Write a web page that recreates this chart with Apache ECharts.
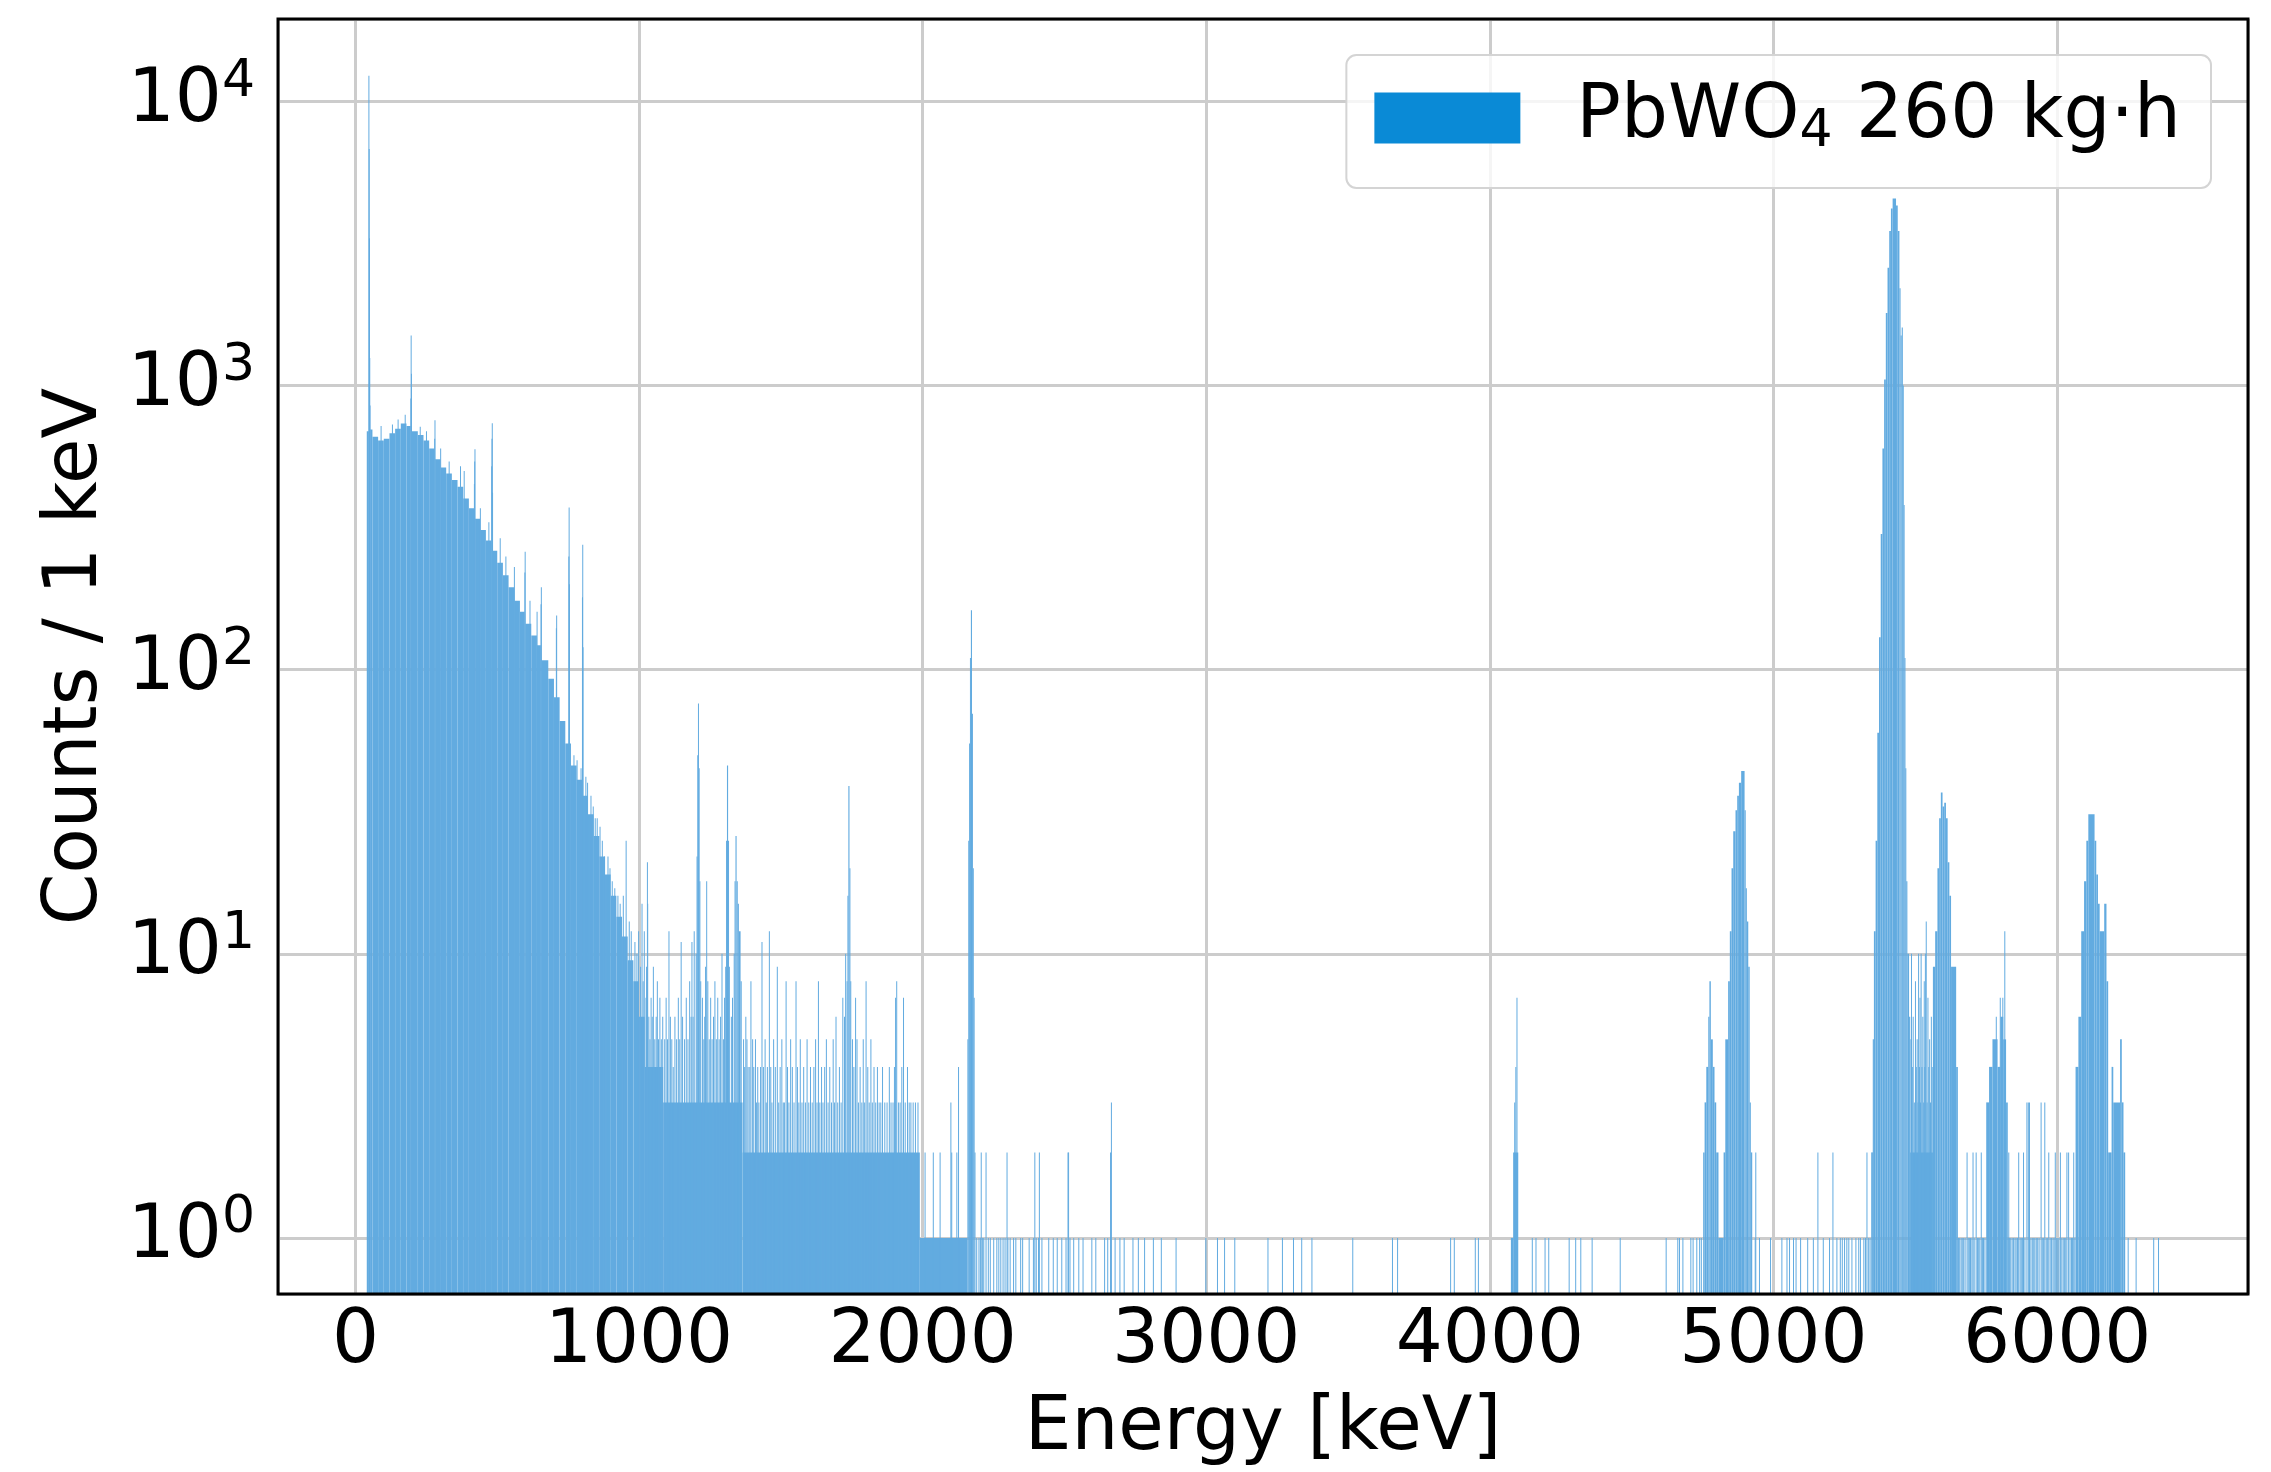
<!DOCTYPE html>
<html>
<head>
<meta charset="utf-8">
<title>PbWO4 spectrum</title>
<script src="https://cdn.jsdelivr.net/npm/echarts/dist/echarts.min.js"></script>
<style>
  html, body { margin: 0; padding: 0; background: #fff; }
  #chart { width: 2271px; height: 1472px; }
</style>
</head>
<body>
<div id="chart"></div>
<script>
// histogram with 1 keV bins; runs of bins are given as [lo keV, hi keV, counts]
const contBlocks = [
  [40, 47, 690], [52, 60, 700], [60, 80, 660], [80, 100, 640], [100, 120, 650],
  [120, 140, 680], [140, 160, 705], [160, 180, 735], [180, 195, 720], [198, 220, 690],
  [220, 240, 670], [240, 260, 640], [260, 279, 600], [281, 300, 550], [300, 320, 515],
  [320, 340, 490], [340, 360, 465], [360, 380, 440], [380, 400, 400], [400, 419, 370],
  [422, 440, 340], [440, 460, 310], [460, 480, 285], [484, 500, 262], [500, 520, 238],
  [520, 540, 215], [540, 560, 195], [560, 580, 175], [580, 597, 160], [599, 620, 145],
  [620, 640, 132], [640, 654, 122], [656, 680, 108], [680, 700, 93], [700, 720, 80],
  [720, 740, 66], [740, 760, 55], [760, 780, 46], [780, 800, 41], [800, 820, 36],
  [820, 840, 31], [840, 860, 26], [860, 880, 22], [880, 900, 19], [900, 920, 16],
  [920, 940, 13.5], [940, 960, 11.5], [960, 980, 9.5], [980, 1000, 8]
];

const tailBlocks = [
  [1000, 1020, 6], [1020, 1085, 4], [1085, 1365, 3], [1365, 1990, 2], [1990, 2158, 1],
  [4074, 4082, 1], [4082, 4100, 2]
];

// gamma lines
const lineBlocks = [
  [1200, 1203, 10], [1203, 1206, 22], [1206, 1208, 50], [1208, 1211, 76], [1211, 1213, 45],
  [1213, 1216, 18], [1216, 1219, 8],
  [1304, 1307, 9], [1307, 1310, 25], [1310, 1314, 46], [1314, 1317, 25], [1317, 1320, 9],
  [1334, 1337, 10], [1337, 1340, 18], [1340, 1344, 26], [1344, 1348, 18], [1348, 1352, 15],
  [1352, 1358, 12], [1358, 1362, 8],
  [1732, 1735, 8], [1735, 1738, 16], [1738, 1742, 39], [1742, 1745, 20], [1745, 1748, 8],
  [2158, 2161, 5], [2161, 2164, 25], [2164, 2167, 55], [2167, 2170, 110], [2170, 2174, 162],
  [2174, 2177, 70], [2177, 2180, 20], [2180, 2183, 7], [2183, 2186, 2]
];

// alpha region
const alphaBlocks = [
  [4752, 4757, 2], [4757, 4763, 3], [4763, 4770, 4], [4770, 4774, 6], [4774, 4779, 8],
  [4779, 4786, 5], [4786, 4792, 4], [4792, 4798, 3], [4798, 4806, 2], [4806, 4824, 1],
  [4824, 4830, 2], [4830, 4840, 5], [4840, 4846, 8], [4846, 4852, 12], [4852, 4858, 20],
  [4858, 4866, 27], [4866, 4872, 32], [4872, 4878, 36], [4878, 4886, 40], [4886, 4898, 44],
  [4898, 4902, 32], [4902, 4906, 17], [4906, 4911, 13], [4911, 4916, 9], [4916, 4920, 3],
  [4920, 4925, 2],
  [5345, 5350, 2], [5350, 5354, 5], [5354, 5360, 12], [5360, 5366, 25], [5366, 5372, 60],
  [5372, 5378, 130], [5378, 5384, 300], [5384, 5390, 600], [5390, 5396, 1050], [5396, 5402, 1800],
  [5402, 5408, 2600], [5408, 5414, 3500], [5414, 5420, 4200], [5420, 5432, 4550], [5432, 5438, 4300],
  [5438, 5444, 3500], [5444, 5448, 2200], [5448, 5452, 1500], [5452, 5456, 1600], [5456, 5459, 1000],
  [5459, 5462, 380], [5462, 5465, 110], [5465, 5468, 45], [5468, 5472, 18], [5472, 5478, 10],
  [5478, 5482, 6], [5482, 5562, 2],
  [5562, 5570, 9], [5570, 5578, 12], [5578, 5584, 20], [5584, 5590, 30], [5590, 5596, 37],
  [5596, 5602, 33], [5602, 5608, 34], [5608, 5614, 30], [5614, 5620, 21], [5620, 5626, 16],
  [5626, 5644, 9], [5644, 5650, 4],
  [5750, 5760, 3], [5760, 5772, 4], [5772, 5790, 5], [5790, 5800, 4], [5800, 5810, 6],
  [5810, 5820, 5], [5820, 5826, 3],
  [6065, 6075, 4], [6075, 6085, 6], [6085, 6095, 12], [6095, 6103, 18], [6103, 6110, 25],
  [6110, 6132, 31], [6132, 6138, 25], [6138, 6144, 19], [6144, 6150, 15], [6150, 6166, 12],
  [6166, 6174, 15], [6174, 6180, 8], [6180, 6192, 2], [6192, 6198, 4], [6198, 6222, 3],
  [6222, 6228, 5], [6228, 6234, 3], [6234, 6240, 2]
];

// single bins [keV, counts]
const spikes = [
  [47, 12300], [48, 6800], [49, 3300], [50, 1250], [51, 850], [90, 720], [130, 730], [150, 760],
  [175, 790], [195, 900], [196, 1500], [197, 1100], [228, 716], [250, 690], [279, 650], [280, 755],
  [300, 600], [330, 540], [370, 520], [383, 500], [419, 450], [420, 540], [421, 597], [440, 370],
  [470, 330], [480, 520], [481, 650], [482, 736], [483, 420], [510, 290], [530, 250], [560, 230],
  [597, 220], [598, 260], [615, 175], [640, 160], [654, 170], [655, 195], [708, 140], [709, 155],
  [752, 250], [753, 372], [754, 200], [770, 50], [781, 48], [795, 45], [800, 180], [801, 275],
  [802, 120], [812, 42], [818, 40], [830, 36], [838, 33], [845, 30], [852, 30], [862, 28],
  [870, 25], [878, 22], [890, 22], [897, 20], [905, 18], [914, 17], [925, 16], [933, 15],
  [944, 16], [954, 25], [965, 13], [972, 12], [985, 11], [992, 10], [998, 12],
  [1005, 9], [1010, 15], [1014, 8], [1018, 12], [1024, 7], [1026, 9], [1029, 21], [1030, 15],
  [1034, 6], [1038, 5], [1042, 7], [1046, 6], [1050, 9], [1055, 5], [1060, 6], [1064, 8],
  [1068, 5], [1073, 7], [1078, 5], [1083, 6], [1090, 5], [1095, 7], [1100, 5], [1105, 12],
  [1110, 6], [1115, 5], [1120, 4], [1126, 6], [1132, 5], [1138, 7], [1143, 5], [1148, 11],
  [1153, 6], [1160, 5], [1166, 7], [1172, 5], [1178, 8], [1183, 6], [1186, 11], [1190, 6],
  [1194, 12], [1223, 7], [1228, 5], [1231, 6], [1234, 9], [1238, 18], [1242, 8], [1247, 5],
  [1252, 7], [1257, 5], [1262, 6], [1267, 8], [1272, 5], [1277, 7], [1282, 5], [1287, 6],
  [1292, 10], [1297, 5], [1301, 7], [1325, 6], [1329, 7], [1368, 5], [1372, 4], [1376, 6],
  [1380, 5], [1384, 4], [1390, 4], [1394, 8], [1400, 5], [1404, 4], [1410, 5], [1414, 3],
  [1418, 4], [1422, 3], [1428, 4], [1433, 11], [1438, 4], [1444, 5], [1448, 3], [1452, 4],
  [1459, 12], [1464, 4], [1468, 3], [1474, 5], [1480, 4], [1487, 9], [1492, 3], [1497, 4],
  [1503, 5], [1508, 3], [1512, 3], [1518, 8], [1523, 4], [1528, 3], [1534, 5], [1540, 4],
  [1546, 3], [1553, 8], [1558, 4], [1563, 3], [1568, 5], [1574, 3], [1580, 4], [1586, 3],
  [1592, 5], [1598, 3], [1604, 4], [1610, 3], [1616, 4], [1622, 5], [1627, 3], [1632, 8],
  [1637, 3], [1643, 4], [1648, 3], [1654, 4], [1660, 5], [1666, 3], [1672, 4], [1678, 3],
  [1684, 5], [1689, 3], [1694, 6], [1700, 3], [1706, 4], [1712, 3], [1718, 7], [1724, 6],
  [1728, 10], [1752, 5], [1757, 4], [1763, 7], [1768, 5], [1773, 3], [1779, 4], [1785, 3],
  [1790, 5], [1795, 3], [1800, 8], [1806, 4], [1811, 3], [1817, 5], [1822, 3], [1828, 4],
  [1834, 3], [1840, 4], [1846, 3], [1852, 3], [1858, 4], [1866, 3], [1874, 3], [1882, 4],
  [1888, 3], [1895, 3], [1900, 4], [1904, 7], [1908, 8], [1914, 3], [1920, 3], [1926, 4],
  [1932, 7], [1938, 3], [1946, 4], [1952, 3], [1958, 3], [1966, 3], [1974, 3], [1983, 3],
  [2008, 2], [2037, 2], [2061, 2], [2099, 3], [2102, 2], [2120, 2], [2126, 4], [2206, 2],
  [2223, 2], [2297, 2], [2395, 2], [2411, 2], [2512, 2], [2514, 2], [2662, 2], [2665, 3],
  [4087, 3], [4091, 4], [4095, 7], [4937, 2], [5156, 2], [5209, 2], [5329, 2], [5347, 2],
  [5484, 5], [5486, 10], [5489, 4], [5492, 6], [5496, 3], [5500, 8], [5503, 4], [5506, 5],
  [5509, 3], [5511, 10], [5514, 4], [5516, 7], [5518, 3], [5520, 10], [5523, 4], [5526, 6],
  [5529, 3], [5531, 8], [5533, 4], [5535, 10], [5538, 13], [5541, 3], [5544, 7], [5547, 4],
  [5550, 5], [5553, 3], [5556, 6], [5559, 4],
  [5682, 2], [5703, 2], [5714, 2], [5732, 2], [5785, 6], [5799, 7], [5808, 7], [5815, 12],
  [5829, 2], [5864, 2], [5881, 2], [5893, 3], [5898, 3], [5902, 3], [5943, 3], [5956, 3],
  [5970, 2], [5993, 2], [6011, 2], [6034, 2], [6040, 2], [6058, 2]
];

// isolated bins with one count
const singles = [
  2190, 2198, 2203, 2211, 2215, 2231, 2238, 2250, 2261, 2268, 2275, 2283, 2290, 2300, 2308,
  2320, 2328, 2345, 2352, 2375, 2390, 2400, 2408, 2420, 2444, 2460, 2474, 2490, 2505, 2519,
  2532, 2550, 2565, 2596, 2610, 2641, 2652, 2678, 2695, 2710, 2741, 2760, 2782, 2813, 2841,
  2893, 2998, 3039, 3064, 3100, 3217, 3268, 3307, 3336, 3372, 3516, 3656, 3674, 3861, 3874,
  3948, 3959, 4149, 4162, 4194, 4207, 4279, 4302, 4320, 4360, 4459, 4621, 4662, 4668, 4680,
  4708, 4716, 4729, 4739, 4745, 4935, 4950, 4989, 5029, 5047, 5056, 5070, 5079, 5095, 5120,
  5140, 5175, 5197, 5223, 5235, 5242, 5250, 5258, 5265, 5276, 5290, 5300, 5306, 5318, 5324,
  5335, 5340, 5652, 5656, 5661, 5665, 5670, 5675, 5686, 5690, 5694, 5699, 5707, 5719, 5723,
  5727, 5736, 5740, 5745, 5827, 5832, 5836, 5841, 5846, 5851, 5855, 5860, 5869, 5873, 5877,
  5886, 5907, 5912, 5917, 5921, 5926, 5931, 5936, 5947, 5951, 5961, 5965, 5975, 5980, 5985,
  5989, 5998, 6002, 6006, 6016, 6021, 6026, 6030, 6045, 6050, 6054, 6062,
  6250, 6278, 6340, 6357
];

const xTicks = [0, 1000, 2000, 3000, 4000, 5000, 6000];
const seriesName = 'PbWO4 260 kg·h';

const FONT = 'DejaVu Sans';
const X_MIN = -273, X_MAX = 6673;
const Y_MIN = 0.635, Y_MAX = 19500;

const bins = [].concat(
  contBlocks, tailBlocks, lineBlocks, alphaBlocks,
  spikes.map(s => [s[0], s[0] + 1, s[1]]),
  singles.map(e => [e, e + 1, 1])
);

const chart = echarts.init(document.getElementById('chart'));

function renderBin(params, api) {
  const top = api.coord([api.value(0), api.value(2)]);
  const bottom = api.coord([api.value(1), Y_MIN]);
  let x = top[0];
  let w = bottom[0] - top[0];
  // a 1 keV bin is under a pixel wide; keep it visible like an antialiased line
  if (w < 1) {
    x -= (1 - w) / 2;
    w = 1;
  }
  return {
    type: 'rect',
    shape: { x: x, y: top[1], width: w, height: bottom[1] - top[1] },
    style: { fill: 'rgb(98,171,224)' }
  };
}

const gridLine = { lineStyle: { color: '#cccccc', width: 3 } };

chart.setOption({
  animation: false,
  grid: {
    left: 278, right: 23, top: 19, bottom: 176,
    show: true, z: 10,
    borderColor: '#000', borderWidth: 3,
    backgroundColor: 'transparent'
  },
  legend: {
    right: 60, top: 55,
    itemWidth: 146, itemHeight: 51, itemGap: 0,
    padding: [23, 30, 30, 28],
    backgroundColor: 'rgba(255,255,255,0.8)',
    borderColor: '#d4d4d4', borderWidth: 2, borderRadius: 10,
    data: [{ name: seriesName, icon: 'rect' }],
    formatter: () => 'PbWO{sub|4} 260 kg·h',
    textStyle: {
      fontFamily: FONT, fontSize: 74, lineHeight: 80, color: '#000', padding: [0, 0, 0, 51],
      rich: { sub: { fontFamily: FONT, fontSize: 52, lineHeight: 44, verticalAlign: 'bottom' } }
    }
  },
  xAxis: {
    type: 'value', min: X_MIN, max: X_MAX, splitNumber: 7,
    axisLine: { show: false }, axisTick: { show: false },
    splitLine: gridLine,
    axisLabel: {
      fontFamily: FONT, fontSize: 74, color: '#000', margin: 12,
      formatter: v => xTicks.indexOf(v) >= 0 ? String(v) : ''
    },
    name: 'Energy [keV]', nameLocation: 'middle', nameGap: 99,
    nameTextStyle: { fontFamily: FONT, fontSize: 74, color: '#000' }
  },
  yAxis: {
    type: 'log', logBase: 10, min: Y_MIN, max: Y_MAX,
    axisLine: { show: false }, axisTick: { show: false },
    splitLine: gridLine,
    axisLabel: {
      margin: 23,
      formatter: v => {
        const e = Math.log10(v), r = Math.round(e);
        return Math.abs(e - r) < 1e-6 ? '{b|10}{s|' + r + '}' : '';
      },
      rich: {
        b: { fontFamily: FONT, fontSize: 74, color: '#000', lineHeight: 90 },
        s: { fontFamily: FONT, fontSize: 52, color: '#000', lineHeight: 52, verticalAlign: 'top' }
      }
    },
    name: 'Counts / 1 keV', nameLocation: 'middle', nameGap: 164, nameRotate: 90,
    nameTextStyle: { fontFamily: FONT, fontSize: 74, color: '#000' }
  },
  series: [{
    name: seriesName,
    type: 'custom',
    renderItem: renderBin,
    clip: true,
    itemStyle: { color: '#0a8ad6' },
    encode: { x: [0, 1], y: 2 },
    data: bins
  }]
});
</script>
</body>
</html>
